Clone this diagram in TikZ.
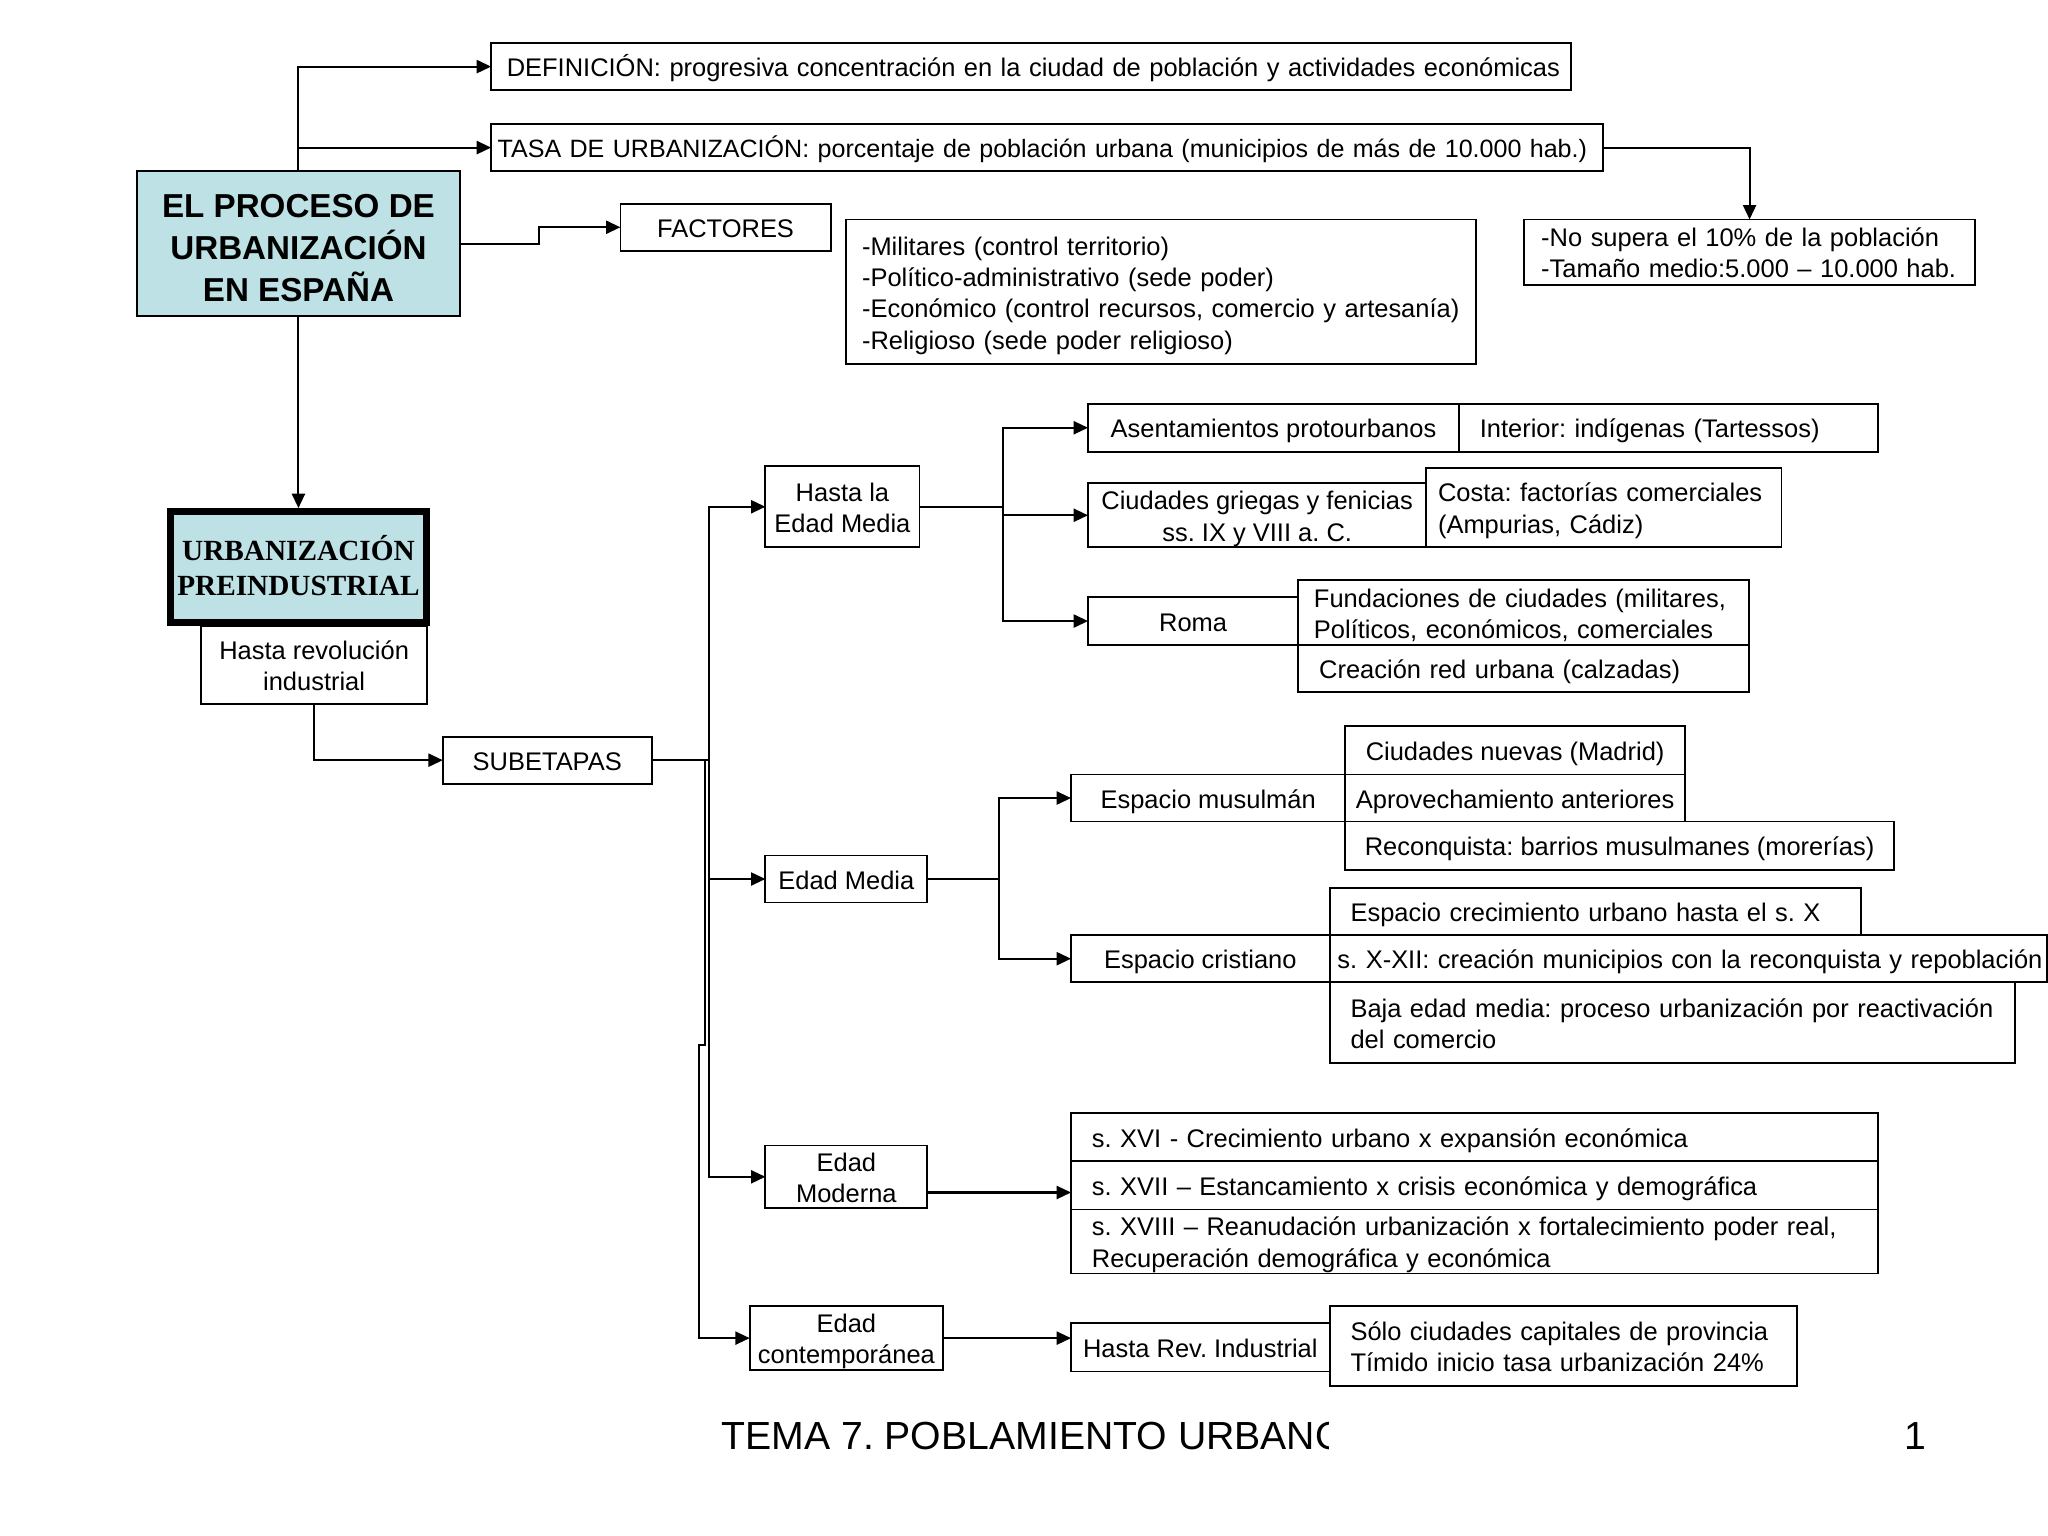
\documentclass[tikz,border=0pt]{standalone}
\usepackage{fontspec}
\setmainfont{Liberation Sans}
\newfontfamily\serifbf{Liberation Serif}
\usetikzlibrary{arrows.meta,calc}
\definecolor{pale}{RGB}{189,225,229}
\tikzset{
  box/.style={draw, line width=0.7pt, inner sep=0pt, outer sep=0pt, font=\fontsize{9.75}{12}\selectfont},
  arr/.style={line width=0.8pt, -{Triangle[length=5.5pt,width=5pt]}},
  conn/.style={line width=0.8pt},
  foot/.style={anchor=base west, inner sep=0pt, font=\fontsize{15}{18}\selectfont}
}
\newcommand{\cbx}[7][]{\node[box,align=center,minimum width={0.5pt*(#5-#3)},minimum height={0.5pt*(#6-#4)},#1] (#2) at ({(#3+#5)/2},{(#4+#6)/2}) {\raisebox{-1.5pt}[\height][\depth]{\begin{tabular}{@{}c@{}}#7\end{tabular}}};}
\newcommand{\lbx}[8][]{\pgfmathsetlengthmacro\tw{0.5pt*(#5-#3-2*#7)}\node[box,align=left,text width=\tw,inner xsep={0.5pt*#7},minimum height={0.5pt*(#6-#4)},#1] (#2) at ({(#3+#5)/2},{(#4+#6)/2}) {\noindent\raisebox{-1.5pt}[\height][\depth]{\begin{tabular}{@{}l@{}}#8\end{tabular}}};}
\begin{document}
\frenchspacing
\begin{tikzpicture}[x=0.5pt,y=-0.5pt]
\fill[white] (0,0) rectangle (1568,1176);
\useasboundingbox (0,0) rectangle (1568,1176);

\lbx{def}{376}{33}{1203}{69}{12}{DEFINICIÓN: progresiva concentración en la ciudad de población y actividades económicas}
\lbx[font=\fontsize{9.6}{12}\selectfont]{tasa}{376}{95}{1227}{131}{5}{TASA DE URBANIZACIÓN: porcentaje de población urbana (municipios de más de 10.000 hab.)}
\cbx[fill=pale,font=\bfseries\fontsize{12.7}{15.5}\selectfont]{main}{105}{131}{352}{242}{\raisebox{-1.5pt}[\height][\depth]{\begin{tabular}{@{}c@{}}EL PROCESO DE\\URBANIZACIÓN\\EN ESPAÑA\end{tabular}}}
\cbx{fact}{475}{156}{636}{192}{FACTORES}
\lbx{flist}{648}{168}{1130}{279}{12}{-Militares (control territorio)\\-Político-administrativo (sede poder)\\-Económico (control recursos, comercio y artesanía)\\-Religioso (sede poder religioso)}
\lbx{res}{1167}{168}{1512}{218}{13}{-No supera el 10\% de la población\\-Tamaño medio:5.000 – 10.000 hab.}
\cbx[fill=pale,line width=2.5pt,outer sep=1.25pt,font=\serifbf\bfseries\fontsize{11.2}{13.5}\selectfont]{pre}{130.5}{391.5}{326.5}{476.5}{URBANIZACIÓN\\PREINDUSTRIAL}
\cbx{hr}{154}{479}{327}{539}{Hasta revolución\\industrial}
\cbx{sub}{339}{564}{499}{600}{SUBETAPAS}
\cbx{hem}{586}{357}{704}{419}{Hasta la\\Edad Media}
\cbx{em}{586}{655}{710}{691}{Edad Media}
\cbx{emod}{586}{877}{710}{925}{Edad\\Moderna}
\cbx{econ}{574}{1000}{722}{1049}{Edad\\contemporánea}
\cbx{asen}{833}{309}{1117}{346}{Asentamientos protourbanos}
\lbx{inter}{1117}{309}{1438}{346}{16}{Interior: indígenas (Tartessos)}
\cbx{ciud}{833}{370}{1092}{419}{Ciudades griegas y fenicias\\ss. IX y VIII a. C.}
\lbx{costa}{1092}{358}{1364}{419}{9}{Costa: factorías comerciales\\(Ampurias, Cádiz)}
\cbx{roma}{833}{457}{994}{494}{Roma}
\lbx{fund}{994}{444}{1339}{494}{12}{Fundaciones de ciudades (militares,\\Políticos, económicos, comerciales}
\lbx{red}{994}{494}{1339}{530}{16}{Creación red urbana (calzadas)}
\cbx{musul}{820}{593}{1030}{629}{Espacio musulmán}
\cbx{nuevas}{1030}{556}{1290}{593}{Ciudades nuevas (Madrid)}
\cbx{aprov}{1030}{593}{1290}{629}{Aprovechamiento anteriores}
\cbx{reconq}{1030}{629}{1450}{666}{Reconquista: barrios musulmanes (morerías)}
\cbx{crist}{820}{716}{1018}{752}{Espacio cristiano}
\lbx{crec}{1018}{680}{1425}{716}{16}{Espacio crecimiento urbano hasta el s. X}
\lbx{xxii}{1018}{716}{1567}{752}{6}{s. X-XII: creación municipios con la reconquista y repoblación}
\lbx{baja}{1018}{752}{1543}{814}{16}{Baja edad media: proceso urbanización por reactivación\\del comercio}
\lbx{s16}{820}{852}{1438}{889}{16}{s. XVI - Crecimiento urbano x expansión económica}
\lbx{s17}{820}{889}{1438}{926}{16}{s. XVII – Estancamiento x crisis económica y demográfica}
\lbx{s18}{820}{926}{1438}{975}{16}{s. XVIII – Reanudación urbanización x fortalecimiento poder real,\\Recuperación demográfica y económica}
\cbx{hri}{820}{1013}{1018}{1050}{Hasta Rev. Industrial}
\lbx{solo}{1018}{1000}{1376}{1061}{16}{Sólo ciudades capitales de provincia\\Tímido inicio tasa urbanización 24\%}

% connectors
\draw[arr] (main.north) |- (def.west);
\draw[arr] (main.north) |- (tasa.west);
\draw[arr] (main.east) -- ++(61,0) |- (fact.west);
\draw[arr] (main.south) -- (pre.north);
\draw[arr] (tasa.east) -| (res.north);
\draw[arr] (hr.south) |- (sub.west);

\coordinate (j1) at (543,582);
\coordinate (j1b) at (540,800);
\draw[conn] (sub.east) -- (j1);
\draw[arr] (j1) |- (hem.west);
\draw[arr] (j1) |- (em.west);
\draw[arr] (j1) |- (emod.west);
\draw[arr] (sub.east) -| (j1b) -- ++(-5,0) |- (econ.west);

\path (hem.east) ++(64,0) coordinate (j2);
\draw[conn] (hem.east) -- (j2);
\draw[arr] (j2) |- (asen.west);
\draw[arr] (j2) |- (ciud.west);
\draw[arr] (j2) |- (roma.west);

\path (em.east) ++(55,0) coordinate (j3);
\draw[conn] (em.east) -- (j3);
\draw[arr] (j3) |- (musul.west);
\draw[arr] (j3) |- (crist.west);

\draw[arr] ($(emod.south east)!0.25!(emod.north east)$) coordinate (t1) -- (t1 -| s17.west);
\draw[arr] (econ.east) -- (econ.east -| hri.west);

% footer
\begin{scope}
\clip (540,1070) rectangle (1017,1125);
\node[foot] (tema) at (552,1110) {TEMA 7. POBLAMIENTO URBANO};
\end{scope}
\node[foot] (pag) at (1458,1110) {1};
\end{tikzpicture}
\end{document}
